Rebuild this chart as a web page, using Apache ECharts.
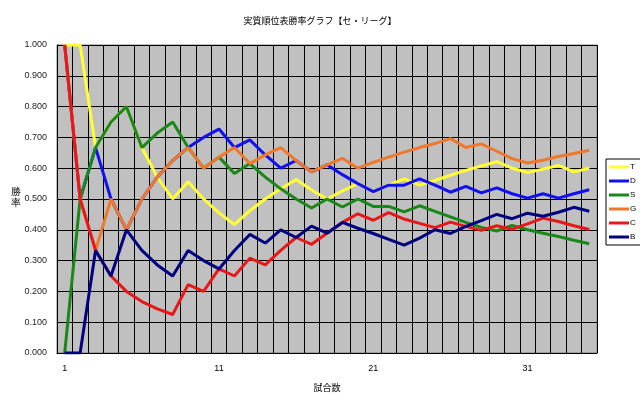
<!DOCTYPE html>
<html>
<head>
<meta charset="utf-8">
<script src="https://cdn.jsdelivr.net/npm/echarts@6/dist/echarts.min.js"></script>
<style>
html,body{margin:0;padding:0;background:#fff;}
#chart{width:640px;height:397px;}
</style>
</head>
<body>
<div id="chart"></div>
<script>
const games = [];
for (let g = 1; g <= 35; g++) games.push(String(g));

const seriesNames = ['T', 'D', 'S', 'G', 'C', 'B'];
const seriesColors = ['#FFFF33', '#1010F0', '#188818', '#F07828', '#E81818', '#000080'];

const T = [1.000,1.000,0.667,0.750,0.800,0.667,0.571,0.500,0.556,0.500,
           0.455,0.417,0.462,0.500,0.533,0.563,0.529,0.500,0.526,0.550,
           0.524,0.545,0.565,0.545,0.560,0.577,0.593,0.607,0.621,0.600,
           0.586,0.597,0.609,0.588,0.600];
const D = [1.000,0.500,0.667,0.500,0.400,0.500,0.571,0.625,0.667,0.700,
           0.727,0.667,0.692,0.643,0.600,0.625,0.588,0.611,0.579,0.550,
           0.524,0.545,0.545,0.565,0.545,0.522,0.541,0.520,0.536,0.517,
           0.503,0.517,0.503,0.517,0.530];
const S = [0.000,0.500,0.667,0.750,0.800,0.667,0.714,0.750,0.667,0.600,
           0.636,0.583,0.615,0.571,0.533,0.500,0.471,0.500,0.474,0.500,
           0.476,0.476,0.458,0.478,0.460,0.442,0.424,0.408,0.396,0.414,
           0.400,0.389,0.378,0.366,0.355];
const G = [1.000,0.500,0.333,0.500,0.400,0.500,0.571,0.625,0.667,0.600,
           0.636,0.667,0.615,0.643,0.667,0.625,0.588,0.611,0.632,0.600,
           0.619,0.636,0.652,0.667,0.680,0.696,0.667,0.679,0.655,0.631,
           0.617,0.626,0.638,0.648,0.658];
const C = [1.000,0.500,0.333,0.250,0.200,0.167,0.143,0.125,0.222,0.200,
           0.273,0.250,0.308,0.286,0.333,0.375,0.353,0.389,0.424,0.452,
           0.431,0.456,0.435,0.421,0.407,0.425,0.411,0.398,0.413,0.402,
           0.419,0.438,0.427,0.413,0.401];
const B = [0.000,0.000,0.333,0.250,0.400,0.333,0.286,0.250,0.333,0.300,
           0.273,0.333,0.385,0.357,0.400,0.375,0.412,0.389,0.424,0.405,
           0.388,0.369,0.350,0.373,0.400,0.388,0.411,0.430,0.450,0.436,
           0.454,0.444,0.457,0.473,0.460];

const allValues = [T, D, S, G, C, B];

const chart = echarts.init(document.getElementById('chart'), null, {renderer: 'canvas'});
const option = {
  animation: false,
  backgroundColor: '#ffffff',
  title: {
    text: '実質順位表勝率グラフ【セ・リーグ】',
    left: 'center',
    top: 11,
    textStyle: {fontSize: 9, fontWeight: 'normal', color: '#000', fontFamily: 'Noto Sans CJK JP'}
  },
  graphic: [{
    type: 'text',
    left: 11,
    top: 187,
    style: {text: '勝\n率', fontSize: 10, lineHeight: 10.5, fill: '#000', font: '10px "Noto Sans CJK JP"'}
  }],
  legend: {
    orient: 'vertical',
    left: 606,
    top: 159,
    width: 40,
    padding: [3, 8, 3, 3],
    itemGap: 4,
    itemWidth: 20,
    itemHeight: 3,
    icon: 'rect',
    backgroundColor: '#ffffff',
    borderColor: '#000',
    borderWidth: 1,
    borderRadius: 0,
    textStyle: {fontSize: 8, color: '#000', fontFamily: 'Liberation Sans', padding: [0, 0, 0, -4], lineHeight: 10},
    data: seriesNames
  },
  grid: {
    left: 57, right: 43, top: 45, bottom: 44,
    show: true,
    backgroundColor: '#C0C0C0',
    borderColor: '#808080',
    borderWidth: 1
  },
  xAxis: {
    type: 'category',
    data: games,
    boundaryGap: true,
    name: '試合数',
    nameLocation: 'middle',
    nameGap: 30,
    nameTextStyle: {fontSize: 9, color: '#000', fontFamily: 'Noto Sans CJK JP'},
    axisLine: {show: true, lineStyle: {color: '#000', width: 1}},
    axisTick: {show: false},
    axisLabel: {
      interval: function (i) { return i % 10 === 0; },
      fontSize: 9, color: '#000', margin: 11, fontFamily: 'Liberation Sans'
    },
    splitLine: {show: true, interval: 0, lineStyle: {color: '#000', width: 1}}
  },
  yAxis: {
    type: 'value',
    min: 0, max: 1, interval: 0.1,
    axisLine: {show: true, lineStyle: {color: '#000', width: 1}},
    axisTick: {show: false},
    axisLabel: {
      formatter: function (v) { return v.toFixed(3); },
      fontSize: 9, color: '#222', margin: 10, fontFamily: 'Liberation Sans'
    },
    splitLine: {show: true, lineStyle: {color: '#000', width: 1}}
  },
  series: seriesNames.map(function (n, i) {
    return {
      name: n,
      type: 'line',
      data: allValues[i],
      symbol: 'none',
      smooth: false,
      itemStyle: {color: seriesColors[i]},
      lineStyle: {color: seriesColors[i], width: 3}
    };
  })
};
chart.setOption(option);
</script>
</body>
</html>
